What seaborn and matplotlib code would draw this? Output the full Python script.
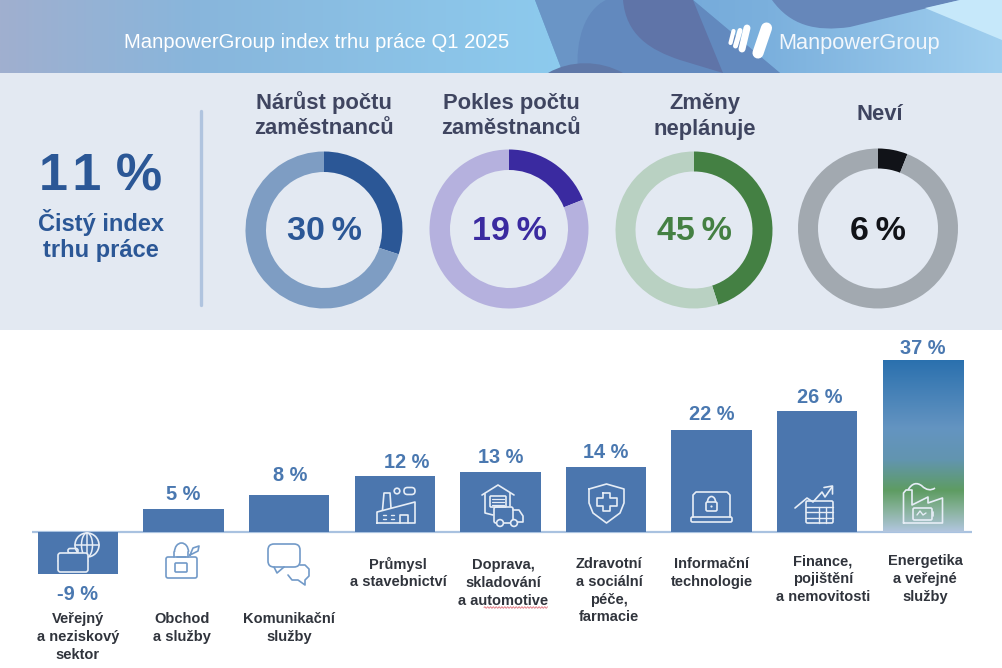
import numpy as np
import pandas as pd
import matplotlib
matplotlib.use('Agg')
import matplotlib.pyplot as plt
from matplotlib.colors import LinearSegmentedColormap
from matplotlib.patches import Rectangle, Circle, Arc, FancyBboxPatch, PathPatch, Polygon
from matplotlib.path import Path
import seaborn as sns

# Sector bars
sectors = ['Veřejný\na neziskový\nsektor', 'Obchod\na služby', 'Komunikační\nslužby',
           'Průmysl\na stavebnictví', 'Doprava,\nskladování\na automotive',
           'Zdravotní\na sociální\npéče,\nfarmacie', 'Informační\ntechnologie',
           'Finance,\npojištění\na nemovitosti', 'Energetika\na veřejné\nslužby']
sector_values = [-9, 5, 8, 12, 13, 14, 22, 26, 37]

# Donuts
donut_titles = ['Nárůst počtu\nzaměstnanců', 'Pokles počtu\nzaměstnanců', 'Změny\nneplánuje', 'Neví']
donut_values = [30, 19, 45, 6]

W, H = 1002, 668
BLUE = '#4B76AE'
LINE = '#E6EDF6'
LINE2 = '#729AC8'

sns.set_theme(style='white')
plt.rcParams['font.family'] = ['Liberation Sans', 'DejaVu Sans']

fig = plt.figure(figsize=(W / 100, H / 100), dpi=100, facecolor='white')

# Background layer in pixel coordinates
bg = fig.add_axes([0, 0, 1, 1], zorder=0)
bg.set_xlim(0, W)
bg.set_ylim(H, 0)
bg.set_axis_off()

left_cmap = LinearSegmentedColormap.from_list('hl', [(0, '#A0AFCF'), (0.35, '#88B6DC'), (1, '#8DCBEE')])
bg.imshow(np.linspace(0, 1, 256)[None, :], cmap=left_cmap, extent=[0, 570, 73, 0], aspect='auto')
right_cmap = LinearSegmentedColormap.from_list('hr', ['#6DA2D5', '#7BB0DD', '#A0CFEF'])
right_img = bg.imshow(np.linspace(0, 1, 256)[None, :], cmap=right_cmap, extent=[535, W, 73, 0], aspect='auto')
right_clip = Polygon([(535, 0), (563, 73), (W, 73), (W, 0)], transform=bg.transData, fc='none', ec='none')
bg.add_patch(right_clip)
right_img.set_clip_path(right_clip)


def blob(verts, codes, color):
    bg.add_patch(PathPatch(Path(verts, codes), fc=color, ec='none'))


M, L, C, Z = Path.MOVETO, Path.LINETO, Path.CURVE4, Path.CLOSEPOLY
# header shapes
bg.add_patch(Polygon([(535, 0), (563, 73), (780, 73), (693, 0)], fc='#6A95C6', ec='none'))
blob([(578, 73), (575, 40), (585, 10), (606, 0), (693, 0), (780, 73), (578, 73)],
     [M, C, C, C, L, L, L], '#6289BE')
blob([(623, 0), (626, 35), (650, 50), (680, 60), (723, 73), (693, 0), (623, 0)],
     [M, C, C, C, L, L, L], '#5F74A8')
blob([(772, 0), (790, 25), (815, 32), (850, 27), (960, 0), (772, 0)],
     [M, C, C, C, L, L], '#6687BA')
bg.add_patch(Polygon([(925, 8), (W, 40), (W, 0), (960, 0)], fc='#C6E8FA', ec='none'))
blob([(548, 73), (570, 60), (600, 60), (623, 73), (548, 73)], [M, C, C, C, L], '#5F78A8')

# pale panel behind the donuts
bg.add_patch(Rectangle((0, 73), W, 257, fc='#E3E9F2', ec='none'))
bg.plot([201, 201], [111, 305], color='#B0C4DF', lw=2.4, solid_capstyle='round')
bg.set_xlim(0, W)
bg.set_ylim(H, 0)

# Donuts
donut_centers = [(324, 230, 78.5, 58), (509, 229, 79.5, 59), (694, 230, 78.5, 58.5), (878, 228.5, 80, 60)]
donut_colors = [('#2B5796', '#7E9DC3'), ('#3A2AA0', '#B5B1DE'), ('#448043', '#B9D1C2'), ('#111318', '#A2A9B0')]
text_colors = ['#2B5796', '#3A2AA0', '#448043', '#111318']
for val, (cx, cy, r, ri), cols in zip(donut_values, donut_centers, donut_colors):
    ax = fig.add_axes([(cx - r) / W, 1 - (cy + r) / H, 2 * r / W, 2 * r / H], zorder=1)
    ax.pie([val, 100 - val], colors=cols, startangle=90, counterclock=False, radius=1,
           wedgeprops=dict(width=1 - ri / r, linewidth=0))
    ax.set_xlim(-1, 1)
    ax.set_ylim(-1, 1)

# Sector bars
df = pd.DataFrame({'sector': sectors, 'value': sector_values})
PX_PER_UNIT = 4.65
STEP = 105.6
BASE_Y = 532
bar_ax = fig.add_axes([32 / W, 0, 940 / W, (H - 332) / H], zorder=1)
bar_ax.patch.set_alpha(0)
sns.barplot(data=df, x='sector', y='value', color=BLUE, saturation=1, width=0.76, linewidth=0, ax=bar_ax, zorder=2)
bar_ax.axhline(0, color='#A9C2E0', lw=1.6, zorder=1)
bar_xlim = ((32 - 78) / STEP, (972 - 78) / STEP)
bar_ylim = (-(H - BASE_Y) / PX_PER_UNIT, (BASE_Y - 332) / PX_PER_UNIT)

# energy bar has a blue to green fill
energy = bar_ax.patches[-1]
energy.set_facecolor('none')
grad = LinearSegmentedColormap.from_list('en', [(0, '#2A70AE'), (0.40, '#6494C1'), (0.58, '#6295B0'),
                                                (0.76, '#5E9C62'), (0.85, '#7FAE8F'), (1, '#B2C6DF')])
img = bar_ax.imshow(np.linspace(0, 1, 256)[:, None], cmap=grad, aspect='auto', zorder=2,
                    extent=[energy.get_x(), energy.get_x() + energy.get_width(), 0, energy.get_height()])
img.set_clip_path(energy)
bar_ax.set_xlim(*bar_xlim)
bar_ax.set_ylim(*bar_ylim)
bar_ax.set_axis_off()

# value labels, a few sit off centre in the reference
label_dx = [0, 0, 1, 12, 0, 0, 0, 3, 0]
label_dy = [-21, 14, 19, 14, 14, 14, 15, 14, 11]
for i, val in enumerate(sector_values):
    bar_ax.annotate(f'{val} %', xy=(i, val), xytext=(label_dx[i], label_dy[i]), textcoords='offset pixels',
                    ha='center', va='center', fontsize=14.4, fontweight='bold', color='#4A78B0', zorder=5)

# Top layer in pixel coordinates
top = fig.add_axes([0, 0, 1, 1], zorder=3)
top.patch.set_alpha(0)
top.set_xlim(0, W)
top.set_ylim(H, 0)
top.set_axis_off()

# header texts and logo
top.text(317, 42.5, 'ManpowerGroup index trhu práce Q1 2025', ha='center', va='center', fontsize=14.55, color='white')
top.text(859, 44, 'ManpowerGroup', ha='center', va='center', fontsize=15.7, color='#F2F7FC')
for (x0, y0, x1, y1), lw in zip([(733.5, 31, 730.5, 43), (740, 30.5, 735.5, 46), (747, 28, 742, 49), (766.5, 28, 758, 53)],
                                [3.0, 3.6, 5.0, 8.0]):
    top.plot([x0, x1], [y0, y1], color='white', lw=lw, solid_capstyle='round')

# headline number
DARK = '#2B5796'
top.text(101, 177, '1\u200a1 %', ha='center', va='center', fontsize=37.5, fontweight='bold', color=DARK)
top.text(101, 223, 'Čistý index', ha='center', va='center', fontsize=17, fontweight='bold', color=DARK)
top.text(101, 251, 'trhu práce', ha='center', va='center', fontsize=17, fontweight='bold', color=DARK)

# donut titles and centre values
title_pos = [(324, [103, 129]), (511, [103, 129]), (705, [103, 129]), (880, [115])]
for title, (tx, tys) in zip(donut_titles, title_pos):
    for line, ty in zip(title.split('\n'), tys):
        top.text(tx, ty, line, ha='center', va='center', fontsize=15.8, fontweight='bold', color='#3F4560')
for val, (cx, cy, r, ri), col in zip(donut_values, donut_centers, text_colors):
    top.text(cx, 232, f'{val}\u2009%', ha='center', va='center', fontsize=24.5, fontweight='bold', color=col)

# sector names
name_pos = [(78, 619), (182, 619), (289, 619), (398, 564), (503, 565), (609, 564), (712, 564), (823, 561), (925, 561)]
for name, (nx, ny) in zip(sectors, name_pos):
    for k, line in enumerate(name.split('\n')):
        top.text(nx, ny + k * 17.8, line, ha='center', va='center', fontsize=10.5, fontweight='bold', color='#30343C')
# spell-check squiggle under automotive
sq = np.arange(484, 548, 0.5)
top.plot(sq, 607.5 + 0.8 * np.sin(sq * 2.2), color='#E0707A', lw=0.6)


def poly(pts, color=LINE, lw=1.2, closed=False):
    pts = list(pts)
    if closed:
        pts.append(pts[0])
    xs, ys = zip(*pts)
    top.plot(xs, ys, color=color, lw=lw, solid_capstyle='round', solid_joinstyle='round')


def rrect(x0, y0, x1, y1, color=LINE, lw=1.2, rad=2):
    top.add_patch(FancyBboxPatch((x0, y0), x1 - x0, y1 - y0, boxstyle=f'round,pad=0,rounding_size={rad}',
                                 fc='none', ec=color, lw=lw))


def circ(x, y, r, color=LINE, lw=1.2):
    top.add_patch(Circle((x, y), r, fc='none', ec=color, lw=lw))


# icon 0: briefcase and globe
circ(87, 545, 12)
top.add_patch(Arc((87, 545), 11, 24, color=LINE, lw=1.1))
poly([(75, 545), (99, 545)], lw=1.1)
poly([(87, 533), (87, 557)], lw=1.1)
top.add_patch(FancyBboxPatch((58, 553), 30, 19, boxstyle='round,pad=0,rounding_size=2.5', fc=BLUE, ec=LINE, lw=1.2, zorder=3))
rrect(68, 548.5, 78, 553)
poly([(58, 561), (70, 561)], lw=1.1)
poly([(76, 561), (88, 561)], lw=1.1)
rrect(70.5, 558.5, 75.5, 563.5, rad=1.5)

# icon 1: shopping bag
rrect(166, 557, 197, 578, color=LINE2)
rrect(175, 563, 187, 572, color=LINE2, rad=1)
top.add_patch(Arc((181.5, 552), 14, 18, theta1=180, theta2=360, color=LINE2, lw=1.2))
poly([(174.5, 552), (174.5, 557)], color=LINE2)
poly([(188.5, 552), (188.5, 557)], color=LINE2)
poly([(177, 557), (186, 557)], color=LINE2)
poly([(190, 555), (193, 548), (199, 546), (198, 551)], color=LINE2, closed=True)

# icon 2: speech bubbles
rrect(268, 544, 300, 567, color=LINE2, rad=6)
poly([(274, 567), (277, 573), (284, 567)], color=LINE2)
poly([(300, 565), (305, 565), (309, 569), (309, 576), (305, 580), (305, 585), (298, 580), (292, 580), (288, 575)], color=LINE2)

# icon 3: factory
poly([(377, 523), (377, 512), (415, 502), (415, 523)], closed=True)
poly([(382.5, 510), (384, 493), (390, 493), (391, 508)])
circ(397, 491, 2.8)
top.add_patch(FancyBboxPatch((404, 487.5), 11, 7, boxstyle='round,pad=0,rounding_size=3.4', fc='none', ec=LINE, lw=1.2))
poly([(400, 523), (400, 515), (408, 515), (408, 523)])
for wy in [515, 519]:
    poly([(383, wy), (386, wy)], lw=1)
    poly([(391, wy), (394, wy)], lw=1)

# icon 4: warehouse and truck
poly([(482, 495), (498, 485), (514, 495)])
poly([(485, 494), (485, 513), (493, 515)])
poly([(510, 493), (510, 506)])
rrect(490, 496, 506, 507, rad=1)
for sy in [499, 502, 505]:
    poly([(492, sy), (504, sy)], lw=0.9)
rrect(494, 507, 513, 523, rad=2)
poly([(513, 510), (519, 510), (523, 516), (523, 522), (513, 522)])
for wx in [500, 514]:
    top.add_patch(Circle((wx, 523), 3.4, fc=BLUE, ec=LINE, lw=1.2, zorder=3))

# icon 5: shield
poly([(589, 489), (606.5, 484), (624, 489), (624, 503), (620, 513), (606.5, 523), (593, 513), (589, 503)], closed=True)
poly([(603, 493), (610, 493), (610, 498), (617, 498), (617, 506), (610, 506), (610, 511), (603, 511), (603, 506),
      (597, 506), (597, 498), (603, 498)], closed=True)

# icon 6: laptop with lock
poly([(693, 517), (693, 495), (696, 492), (727, 492), (730, 495), (730, 517)])
rrect(691, 517, 732, 522, rad=1.5)
rrect(706, 502, 717, 511, rad=1.5)
top.add_patch(Arc((711.5, 502), 8, 11, theta1=180, theta2=360, color=LINE, lw=1.2))
top.add_patch(Circle((711.5, 506.5), 1.1, fc=LINE, ec='none'))

# icon 7: growth arrow and table
poly([(795, 508), (807, 498), (813, 502), (822, 492), (825, 497), (832, 487)])
poly([(824, 487.5), (832.5, 486), (832.5, 494)])
rrect(806, 501, 833, 523, rad=1.5)
for ly in [507, 512, 518]:
    poly([(806, ly), (833, ly)], lw=1)
for lx in [819, 826]:
    poly([(lx, 507), (lx, 523)], lw=1)

# icon 8: factory with battery
poly([(903.5, 523), (903.5, 493), (906, 490), (912, 490), (912, 505), (928, 497), (928, 503), (942.5, 498), (942.5, 523)], closed=True)
top.add_patch(PathPatch(Path([(908, 490), (912, 483), (917, 482), (922, 486), (926, 490), (931, 491), (935, 488)],
                             [M, C, C, C, C, C, C]), fc='none', ec=LINE, lw=1.2))
rrect(913, 508, 932, 520, rad=1.5)
poly([(933.5, 512), (933.5, 516)])
poly([(917, 515), (920, 511), (923, 515), (926, 513)], lw=1)

fig.savefig('out.png', dpi=100)
